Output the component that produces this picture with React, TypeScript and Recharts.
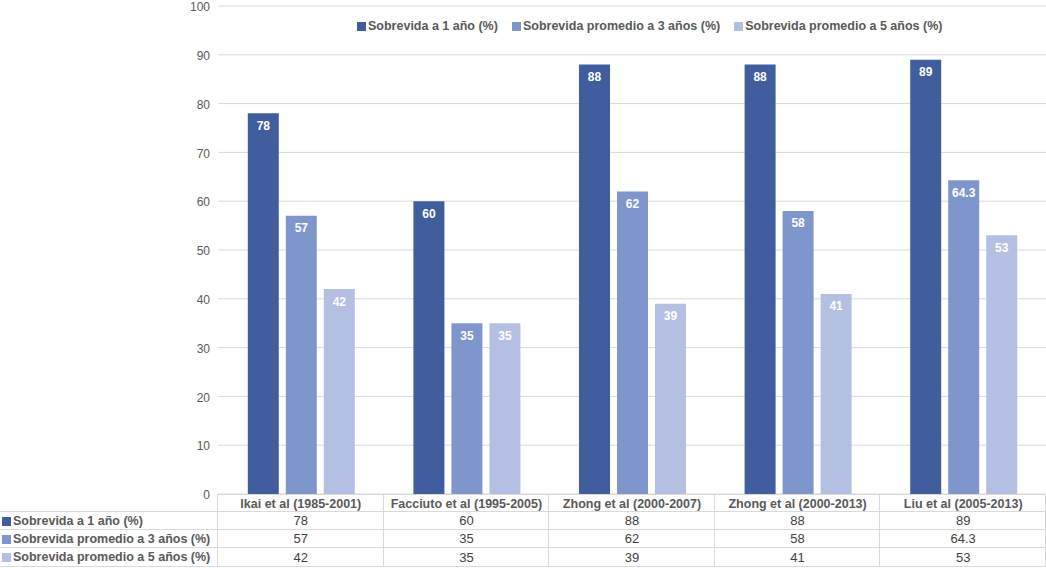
import { Bar, BarChart, CartesianGrid, LabelList, XAxis, YAxis } from "recharts";

const categories = [
  "Ikai et al (1985-2001)",
  "Facciuto et al (1995-2005)",
  "Zhong et al (2000-2007)",
  "Zhong et al (2000-2013)",
  "Liu et al (2005-2013)",
];

const seriesNames = [
  "Sobrevida a 1 año (%)",
  "Sobrevida promedio a 3 años (%)",
  "Sobrevida promedio a 5 años (%)",
];

const oneYear = [78, 60, 88, 88, 89];
const threeYears = [57, 35, 62, 58, 64.3];
const fiveYears = [42, 35, 39, 41, 53];

const yTicks = [0, 10, 20, 30, 40, 50, 60, 70, 80, 90, 100];

const colors = ["#405E9D", "#7F96CC", "#B4C0E1"];
const seriesValues = [oneYear, threeYears, fiveYears];
const keys = ["s1", "s2", "s3"];

const data = categories.map((name, i) => ({
  name,
  s1: oneYear[i],
  s2: threeYears[i],
  s3: fiveYears[i],
}));

const W = 1046;
const H = 568;
const LEFT = 218;
const PLOT_BOTTOM = 494;
const colW = (W - LEFT) / categories.length;
const rowH = [18, 18, 18, 19];
const lineColor = "#d9d9d9";
const font = "'Liberation Sans', Arial, sans-serif";

// legend drawn as an overlay so it doesn't push the plot down
const LegendBox = () => (
  <div
    style={{
      position: "absolute",
      left: 357,
      top: 17,
      display: "flex",
      gap: 14,
      fontFamily: font,
      fontSize: 12.5,
      fontWeight: "bold",
      color: "#595959",
      lineHeight: "18px",
      whiteSpace: "nowrap",
    }}
  >
    {seriesNames.map((n, i) => (
      <div key={n} style={{ display: "flex", alignItems: "center" }}>
        <span style={{ width: 9, height: 9, background: colors[i], marginRight: 2, display: "inline-block" }} />
        {n}
      </div>
    ))}
  </div>
);

const DataTable = () => {
  const rowTops = [495, 512, 530, 548];
  const bottom = 567;
  return (
    <div style={{ position: "absolute", left: 0, top: 0, width: W, height: H, pointerEvents: "none", fontFamily: font }}>
      <div style={{ position: "absolute", left: LEFT, width: W - LEFT, top: rowTops[0] - 1, height: 1, background: lineColor }} />
      {rowTops.slice(1).concat([bottom]).map((t) => (
        <div key={t} style={{ position: "absolute", left: 0, width: W, top: t - 1, height: 1, background: lineColor }} />
      ))}
      {categories.map((_, i) => (
        <div key={i} style={{ position: "absolute", left: LEFT + i * colW - 1, top: rowTops[0] - 1, width: 1, height: bottom - rowTops[0] + 1, background: lineColor }} />
      ))}
      <div style={{ position: "absolute", left: W - 1, top: rowTops[0] - 1, width: 1, height: bottom - rowTops[0] + 1, background: lineColor }} />
      {categories.map((c, i) => (
        <div key={c} style={{ position: "absolute", left: LEFT + i * colW, width: colW, top: rowTops[0], height: rowH[0], lineHeight: `${rowH[0]}px`, textAlign: "center", fontSize: 12.5, fontWeight: "bold", color: "#595959", whiteSpace: "nowrap" }}>
          {c}
        </div>
      ))}
      {seriesNames.map((n, r) => (
        <div key={n}>
          <div style={{ position: "absolute", left: 2, top: rowTops[r + 1], height: rowH[r + 1], lineHeight: `${rowH[r + 1]}px`, display: "flex", alignItems: "center", fontSize: 12.5, fontWeight: "bold", color: "#595959", whiteSpace: "nowrap" }}>
            <span style={{ width: 9, height: 9, background: colors[r], marginRight: 2, display: "inline-block" }} />
            {n}
          </div>
          {seriesValues[r].map((v, i) => (
            <div key={i} style={{ position: "absolute", left: LEFT + i * colW, width: colW, top: rowTops[r + 1], height: rowH[r + 1], lineHeight: `${rowH[r + 1]}px`, textAlign: "center", fontSize: 13, color: "#404040" }}>
              {v}
            </div>
          ))}
        </div>
      ))}
    </div>
  );
};

export default function App() {
  return (
    <div style={{ position: "relative", width: W, height: H, background: "#fff" }}>
      <style>{`body{margin:0}`}</style>
      <BarChart
        width={W}
        height={H}
        data={data}
        margin={{ top: 6, right: 0, bottom: H - PLOT_BOTTOM, left: 0 }}
        barCategoryGap="18%"
        barGap={7}
      >
        <CartesianGrid vertical={false} stroke={lineColor} />
        <XAxis dataKey="name" hide />
        <YAxis
          width={LEFT}
          domain={[0, 100]}
          ticks={yTicks}
          interval={0}
          axisLine={false}
          tickLine={false}
          tick={{ fontSize: 12, fill: "#595959", fontFamily: font, dy: 1 }}
        />
        {keys.map((k, i) => (
          <Bar key={k} dataKey={k} name={seriesNames[i]} fill={colors[i]} isAnimationActive={false}>
            <LabelList
              dataKey={k}
              position="insideTop"
              offset={8}
              fill="#ffffff"
              fontSize={12}
              fontWeight="bold"
              fontFamily={font}
            />
          </Bar>
        ))}
      </BarChart>
      <LegendBox />
      <DataTable />
    </div>
  );
}
